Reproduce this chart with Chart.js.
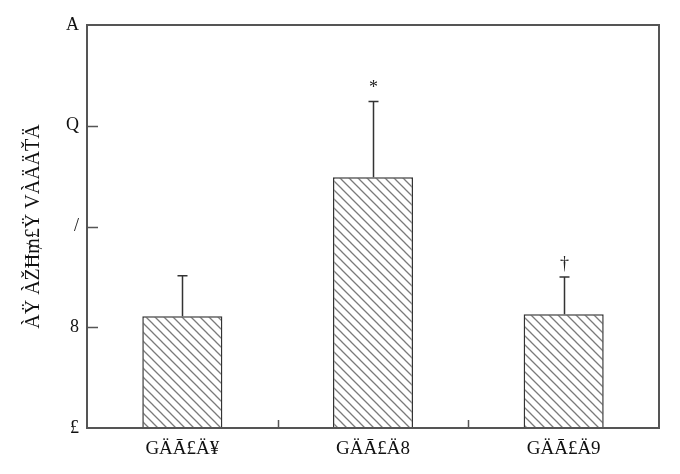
<!DOCTYPE html>
<html>
<head>
<meta charset="utf-8">
<script src="https://cdn.jsdelivr.net/npm/chart.js@4"></script>
<style>
  html, body { margin: 0; padding: 0; background: #fff; }
  #wrap { width: 680px; height: 474px; position: relative; }
</style>
</head>
<body>
<div id="wrap"><canvas id="chart"></canvas></div>
<script>
const categories = ['GÄĀ£Ä¥', 'GÄĀ£Ä8', 'GÄĀ£Ä9'];
const means = [1.11, 2.49, 1.13];
const errors = [0.40, 0.75, 0.37];
const marks = ['', '*', '†'];
const yTickLabels = ['£', '8', '/', 'Q', 'A'];
const yTitle = 'ÀŸ ÀŽĦ₥£Ÿ VÀÄÄŤÄ';

const SERIF = '"Liberation Serif", "DejaVu Serif", serif';
const AXIS = '#555';

const makeHatch = () => {
    const c = document.createElement('canvas');
    c.width = 9; c.height = 9;
    const g = c.getContext('2d');
    g.fillStyle = '#fff';
    g.fillRect(0, 0, 9, 9);
    g.strokeStyle = '#7a7a7a';
    g.lineWidth = 1.3;
    g.beginPath();
    g.moveTo(-1, -1); g.lineTo(10, 10);
    g.moveTo(-1, 8); g.lineTo(1, 10);
    g.moveTo(8, -1); g.lineTo(10, 1);
    g.stroke();
    return g.createPattern(c, 'repeat');
};

// frame, inward ticks, error bars and significance marks
const extras = {
    id: 'extras',
    afterDatasetsDraw(chart) {
        const { ctx, chartArea: a, scales: { x, y } } = chart;
        ctx.save();
        ctx.strokeStyle = AXIS;
        ctx.lineWidth = 2;
        ctx.strokeRect(a.left, a.top, a.right - a.left, a.bottom - a.top);

        ctx.lineWidth = 1.5;
        ctx.beginPath();
        for (let v = 1; v < yTickLabels.length - 1; v++) {
            const py = Math.round(y.getPixelForValue(v)) + 0.5;
            ctx.moveTo(a.left, py); ctx.lineTo(a.left + 11, py);
        }
        for (let i = 0; i < categories.length - 1; i++) {
            const px = Math.round((x.getPixelForValue(i) + x.getPixelForValue(i + 1)) / 2) + 0.5;
            ctx.moveTo(px, a.bottom); ctx.lineTo(px, a.bottom - 8);
        }
        ctx.stroke();

        ctx.strokeStyle = '#333';
        ctx.lineWidth = 1.5;
        ctx.fillStyle = '#222';
        ctx.font = '18px ' + SERIF;
        ctx.textAlign = 'center';
        ctx.textBaseline = 'bottom';
        means.forEach((m, i) => {
            const px = Math.round(x.getPixelForValue(i)) + 0.5;
            const top = y.getPixelForValue(m + errors[i]);
            ctx.beginPath();
            ctx.moveTo(px, y.getPixelForValue(m));
            ctx.lineTo(px, top);
            ctx.moveTo(px - 5, top); ctx.lineTo(px + 5, top);
            ctx.stroke();
            if (marks[i]) ctx.fillText(marks[i], px, top - 4);
        });
        ctx.restore();
    }
};

new Chart(document.getElementById('chart'), {
    type: 'bar',
    data: {
        labels: categories,
        datasets: [{
            data: means,
            backgroundColor: makeHatch(),
            borderColor: '#333',
            borderWidth: 1.5,
            barPercentage: 0.42,
            categoryPercentage: 1
        }]
    },
    options: {
        responsive: true,
        maintainAspectRatio: false,
        animation: false,
        layout: { padding: { top: 25, right: 21, left: 22, bottom: 0 } },
        plugins: { legend: { display: false }, tooltip: { enabled: false } },
        scales: {
            x: {
                grid: { display: false, drawTicks: false },
                border: { display: false },
                ticks: { color: '#111', padding: 10, font: { family: SERIF, size: 19 } },
                afterFit: (s) => { s.height = 46; }
            },
            y: {
                min: 0, max: 4,
                grid: { display: false, drawTicks: false },
                border: { display: false },
                ticks: {
                    stepSize: 1,
                    color: '#111',
                    padding: 8,
                    font: { family: SERIF, size: 18 },
                    callback: (v) => yTickLabels[v]
                },
                title: {
                    display: true,
                    text: yTitle,
                    color: '#111',
                    padding: 0,
                    font: { family: SERIF, size: 20 }
                },
                afterFit: (s) => { s.width = 65; }
            }
        }
    },
    plugins: [extras]
});
</script>
</body>
</html>
